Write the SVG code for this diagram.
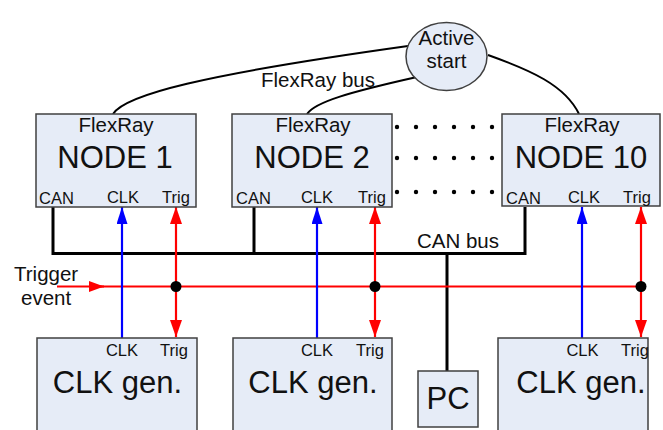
<svg xmlns="http://www.w3.org/2000/svg" width="663" height="430" viewBox="0 0 663 430">
<style>
text{font-family:"Liberation Sans",Arial,sans-serif;fill:#111}
.box{fill:#e6ecf7;stroke:#404040;stroke-width:1.5}
.m{font-size:20.5px;text-anchor:middle}
.big{font-size:31px;text-anchor:middle}
.s{font-size:16.5px}
.sc{font-size:16.5px;text-anchor:middle}
.fr{fill:none;stroke:#000;stroke-width:2}
.can{fill:none;stroke:#000;stroke-width:3}
.red{stroke:#ff0000;stroke-width:2.2;fill:none}
.blue{stroke:#0000ff;stroke-width:2.2;fill:none}
</style>
<defs>
<marker id="ar" viewBox="0 0 17 12" refX="17" refY="6" markerWidth="17" markerHeight="12" markerUnits="userSpaceOnUse" orient="auto-start-reverse"><path d="M0,0 L17,6 L0,12 z" fill="#ff0000"/></marker>
<marker id="ab" viewBox="0 0 17 11" refX="17" refY="5.5" markerWidth="17" markerHeight="11" markerUnits="userSpaceOnUse" orient="auto"><path d="M0,0 L17,5.5 L0,11 z" fill="#0000ff"/></marker>
<marker id="at" viewBox="0 0 15 11" refX="15" refY="5.5" markerWidth="15" markerHeight="11" markerUnits="userSpaceOnUse" orient="auto"><path d="M0,0 L15,5.5 L0,11 z" fill="#ff0000"/></marker>
</defs>

<g id="connectors">
<path class="fr" d="M113,114 C125,95 200,75 408,46"/>
<path class="fr" d="M307,114 C315,102 350,92 417,77"/>
<path class="fr" d="M488,55 C530,70 565,85 579,114"/>
<text class="m" x="318" y="87">FlexRay bus</text>
<g fill="#000">
<circle cx="397" cy="127" r="2.2"/><circle cx="416" cy="127" r="2.2"/><circle cx="435" cy="127" r="2.2"/><circle cx="454" cy="127" r="2.2"/><circle cx="473" cy="127" r="2.2"/><circle cx="492" cy="127" r="2.2"/>
<circle cx="397" cy="158" r="2.2"/><circle cx="416" cy="158" r="2.2"/><circle cx="435" cy="158" r="2.2"/><circle cx="454" cy="158" r="2.2"/><circle cx="473" cy="158" r="2.2"/><circle cx="492" cy="158" r="2.2"/>
<circle cx="397" cy="192" r="2.2"/><circle cx="416" cy="192" r="2.2"/><circle cx="435" cy="192" r="2.2"/><circle cx="454" cy="192" r="2.2"/><circle cx="473" cy="192" r="2.2"/><circle cx="492" cy="192" r="2.2"/>
</g>
<path class="can" d="M53,207 V253.5 H525 V207 M254,207 V253.5 M447,253.5 V371"/>
<text class="m" x="458" y="248">CAN bus</text>
<line class="red" x1="57" y1="286.5" x2="104" y2="286.5" marker-end="url(#at)"/>
<line class="red" x1="100" y1="286.5" x2="641" y2="286.5"/>
<text style="font-size:20.5px" x="14" y="281">Trigger</text>
<text style="font-size:20.5px" x="21" y="305">event</text>
<line class="blue" x1="122" y1="338" x2="122" y2="207" marker-end="url(#ab)"/>
<line class="blue" x1="317" y1="338" x2="317" y2="207" marker-end="url(#ab)"/>
<line class="blue" x1="582" y1="338" x2="582" y2="207" marker-end="url(#ab)"/>
<line class="red" x1="176" y1="207" x2="176" y2="337" marker-start="url(#ar)" marker-end="url(#ar)"/>
<line class="red" x1="375" y1="207" x2="375" y2="337" marker-start="url(#ar)" marker-end="url(#ar)"/>
<line class="red" x1="641" y1="207" x2="641" y2="337" marker-start="url(#ar)" marker-end="url(#ar)"/>
<g fill="#000">
<circle cx="176" cy="286.5" r="5.5"/><circle cx="375" cy="286.5" r="5.5"/><circle cx="641" cy="286.5" r="5.5"/>
</g>
</g>

<g id="active-start">
<ellipse class="box" cx="446.5" cy="56.5" rx="40.5" ry="34"/>
<text class="m" x="446.5" y="45">Active</text>
<text class="m" x="446.5" y="68">start</text>
</g>

<g id="node1">
<rect class="box" x="36" y="114" width="160" height="93"/>
<text class="m" x="116" y="132">FlexRay</text>
<text class="big" x="115" y="168">NODE 1</text>
<text class="s" x="39" y="204">CAN</text>
<text class="sc" x="123" y="203">CLK</text>
<text class="sc" x="176" y="203">Trig</text>
</g>
<g id="node2">
<rect class="box" x="232" y="114" width="160" height="93"/>
<text class="m" x="313" y="132">FlexRay</text>
<text class="big" x="312" y="168">NODE 2</text>
<text class="s" x="236" y="204">CAN</text>
<text class="sc" x="317" y="203">CLK</text>
<text class="sc" x="372" y="203">Trig</text>
</g>
<g id="node10">
<rect class="box" x="502" y="114" width="158" height="92"/>
<text class="m" x="582" y="132">FlexRay</text>
<text class="big" x="581" y="168">NODE 10</text>
<text class="s" x="506" y="204">CAN</text>
<text class="sc" x="584" y="203">CLK</text>
<text class="sc" x="637" y="203">Trig</text>
</g>

<g id="clkgen1">
<rect class="box" x="37" y="338" width="160" height="96"/>
<text class="sc" x="122" y="356">CLK</text>
<text class="sc" x="174" y="356">Trig</text>
<text class="big" x="117.5" y="393">CLK gen.</text>
</g>
<g id="clkgen2">
<rect class="box" x="233" y="338" width="159" height="96"/>
<text class="sc" x="317" y="356">CLK</text>
<text class="sc" x="370" y="356">Trig</text>
<text class="big" x="313" y="393">CLK gen.</text>
</g>
<g id="pc">
<rect class="box" x="418" y="371" width="60" height="56"/>
<text class="big" x="448" y="409">PC</text>
</g>
<g id="clkgen3">
<rect class="box" x="498" y="338" width="150" height="96"/>
<text class="sc" x="582.5" y="356">CLK</text>
<text class="sc" x="635" y="356">Trig</text>
<text class="big" x="581" y="393">CLK gen.</text>
</g>
</svg>
